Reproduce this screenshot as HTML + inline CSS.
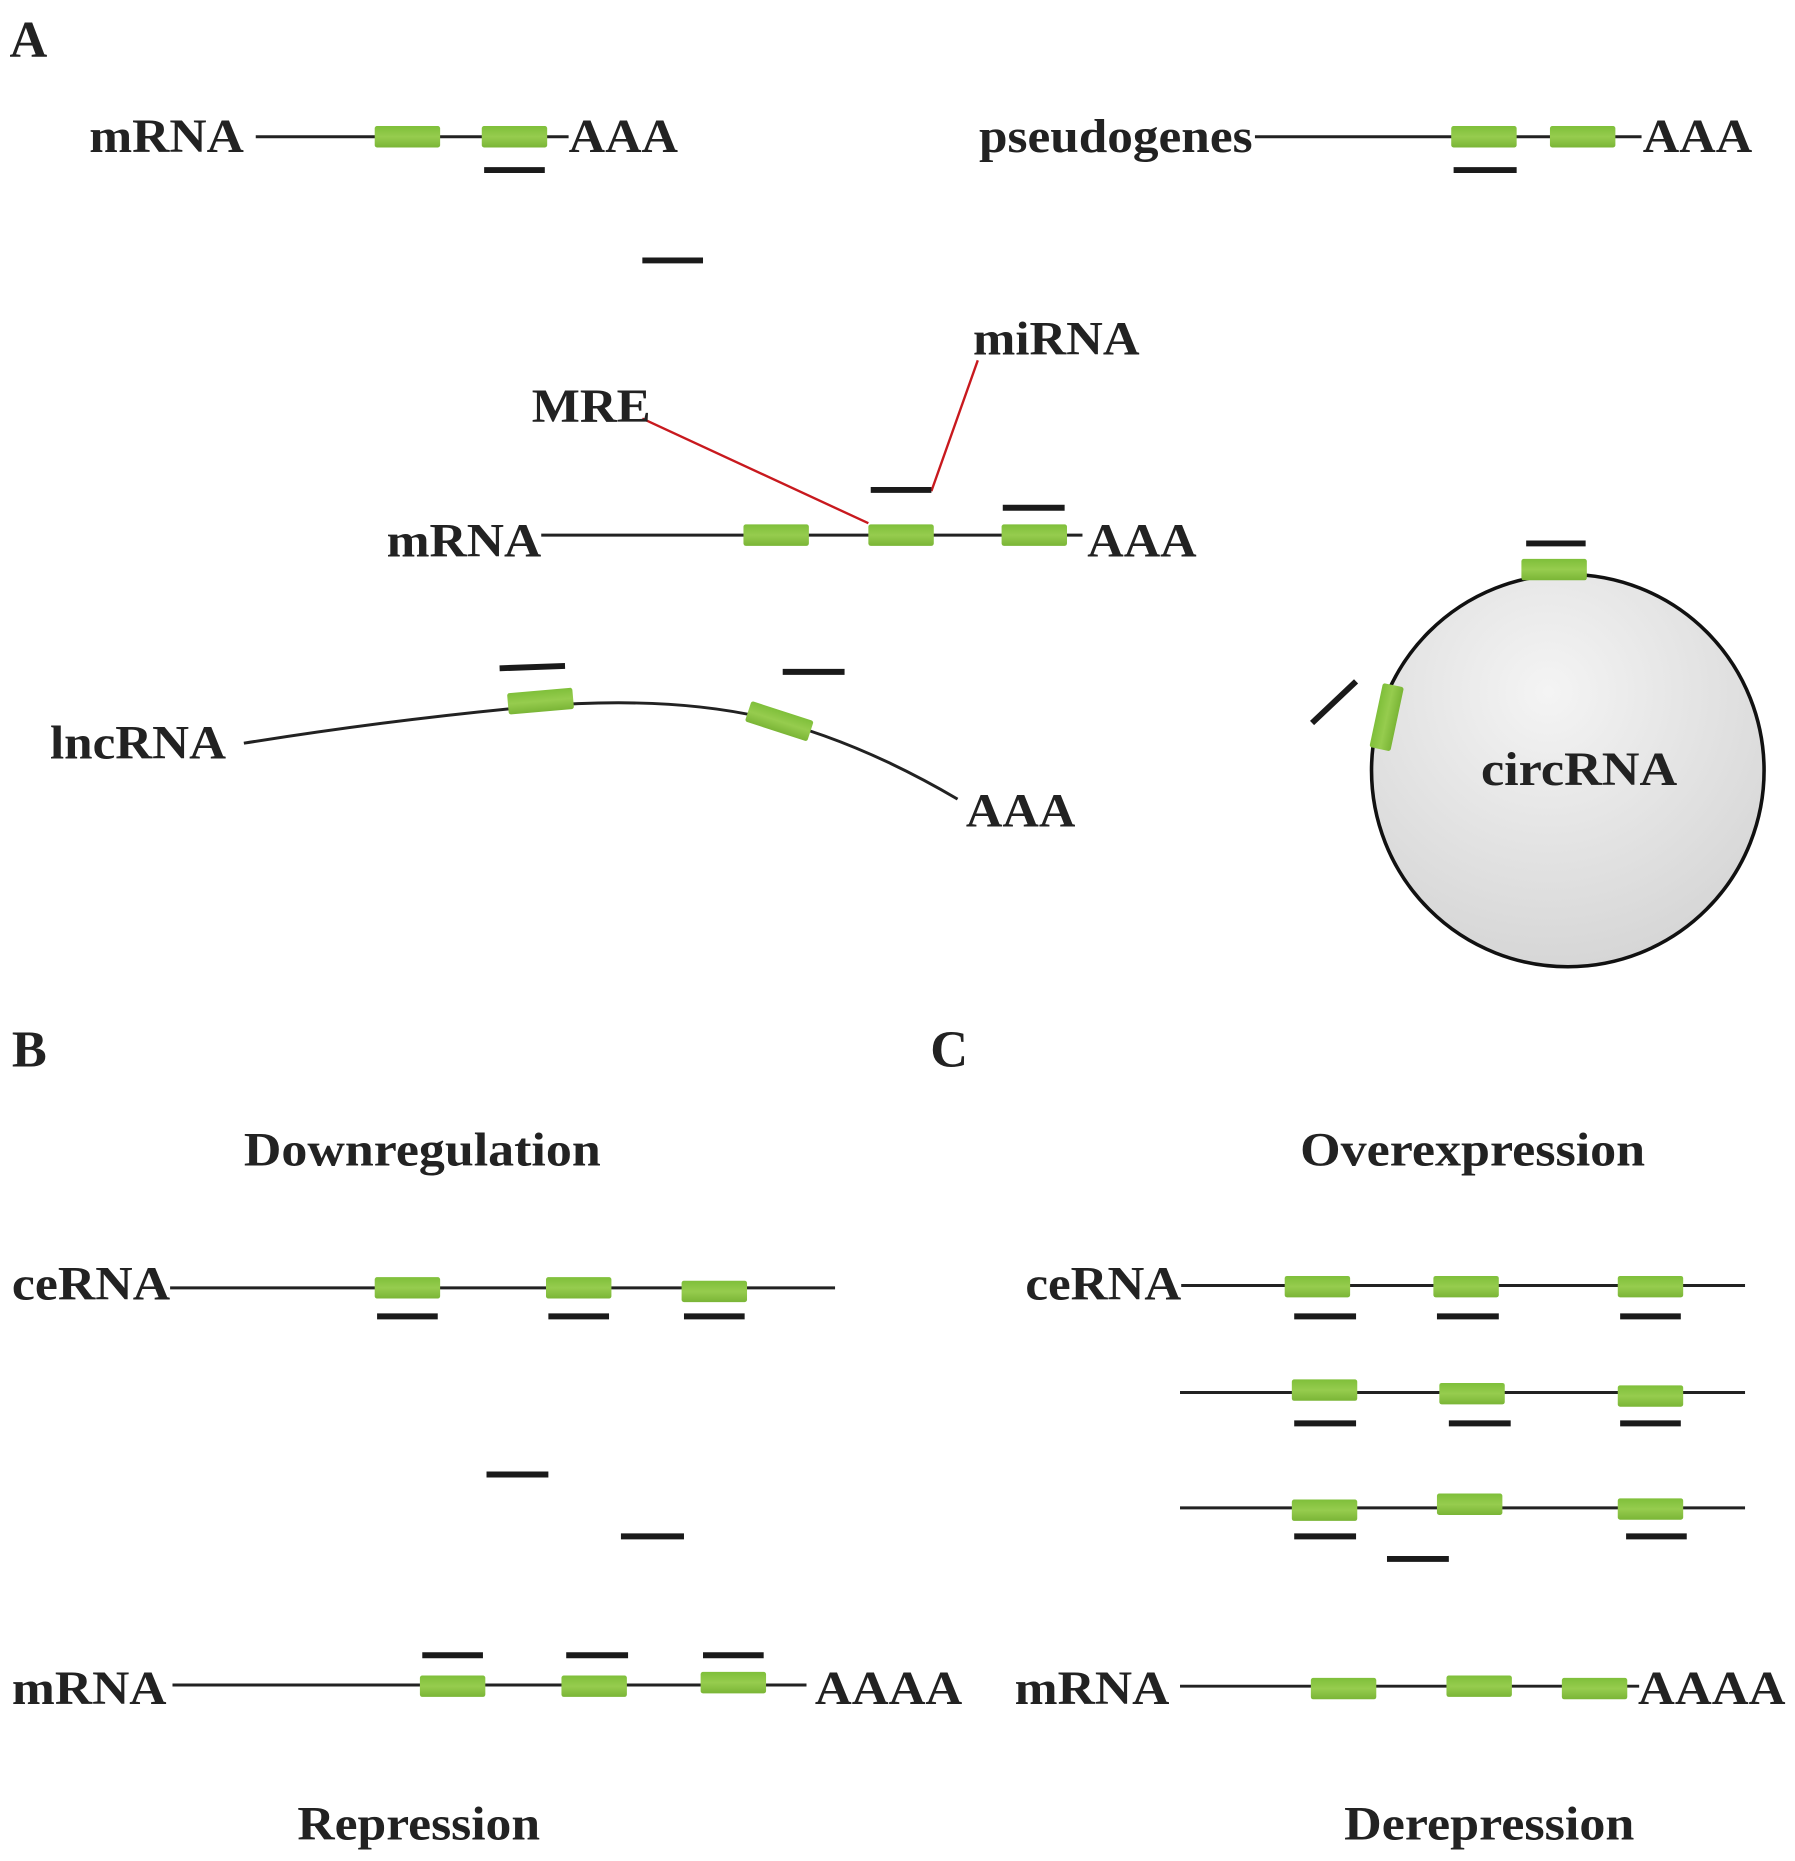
<!DOCTYPE html>
<html><head><meta charset="utf-8"><style>
html,body{margin:0;padding:0;background:#fff;width:1795px;height:1861px;overflow:hidden}
svg{display:block}
text{font-family:"Liberation Serif",serif;font-weight:bold;fill:#222}
</style></head><body>
<svg width="1795" height="1861" viewBox="0 0 1509 1565" preserveAspectRatio="none" xmlns="http://www.w3.org/2000/svg">
<defs>
<linearGradient id="g" x1="0" y1="0" x2="0" y2="1"><stop offset="0" stop-color="#7fbf3a"/><stop offset="0.5" stop-color="#96cc4e"/><stop offset="1" stop-color="#7ab536"/></linearGradient>
<radialGradient id="c" cx="0.45" cy="0.3" r="0.8"><stop offset="0" stop-color="#f4f4f4"/><stop offset="1" stop-color="#d2d2d2"/></radialGradient>
<g id="b"><rect x="0" y="-9" width="55" height="18" rx="2" fill="url(#g)"/></g>
</defs>
<g stroke="#222" stroke-width="2.5" fill="none">
<line x1="215" y1="115" x2="478" y2="115"/>
<line x1="1055" y1="115" x2="1380" y2="115"/>
<line x1="455" y1="450" x2="910" y2="450"/>
<path d="M205,625 Q330,605 450,594 Q560,585 640,603 Q720,622 805,672"/>
<line x1="143" y1="1083" x2="702" y2="1083"/>
<line x1="145" y1="1417" x2="678" y2="1417"/>
<line x1="993" y1="1081" x2="1467" y2="1081"/>
<line x1="992" y1="1171" x2="1467" y2="1171"/>
<line x1="992" y1="1268" x2="1467" y2="1268"/>
<line x1="992" y1="1418" x2="1378" y2="1418"/>
</g>
<circle cx="1318" cy="648" r="165" fill="url(#c)" stroke="#111" stroke-width="3"/>
<g stroke="#c8191e" stroke-width="2"><line x1="540" y1="352" x2="730" y2="440"/><line x1="822" y1="303" x2="783" y2="413"/></g>
<g>
<use href="#b" x="315" y="115"/><use href="#b" x="405" y="115"/>
<use href="#b" x="1220" y="115"/><use href="#b" x="1303" y="115"/>
<use href="#b" x="625" y="450"/><use href="#b" x="730" y="450"/><use href="#b" x="842" y="450"/>
<use href="#b" transform="translate(427,592) rotate(-5)"/>
<use href="#b" transform="translate(629,598) rotate(18)"/>
<use href="#b" x="1279" y="479"/>
<use href="#b" transform="translate(1160,630) rotate(-78)"/>
<use href="#b" x="315" y="1083"/><use href="#b" x="459" y="1083"/><use href="#b" x="573" y="1086"/>
<use href="#b" x="353" y="1418"/><use href="#b" x="472" y="1418"/><use href="#b" x="589" y="1415"/>
<use href="#b" x="1080" y="1082"/><use href="#b" x="1205" y="1082"/><use href="#b" x="1360" y="1082"/>
<use href="#b" x="1086" y="1169"/><use href="#b" x="1210" y="1172"/><use href="#b" x="1360" y="1174"/>
<use href="#b" x="1086" y="1270"/><use href="#b" x="1208" y="1265"/><use href="#b" x="1360" y="1269"/>
<use href="#b" x="1102" y="1420"/><use href="#b" x="1216" y="1418"/><use href="#b" x="1313" y="1420"/>
</g>
<g stroke="#1a1a1a" stroke-width="5">
<line x1="407" y1="143" x2="458" y2="143"/><line x1="1222" y1="143" x2="1275" y2="143"/>
<line x1="540" y1="219" x2="591" y2="219"/>
<line x1="732" y1="412" x2="783" y2="412"/><line x1="843" y1="427" x2="895" y2="427"/>
<line x1="420" y1="562" x2="475" y2="560"/><line x1="658" y1="565" x2="710" y2="565"/>
<line x1="1283" y1="457" x2="1333" y2="457"/><line x1="1103" y1="608" x2="1140" y2="573"/>
<line x1="317" y1="1107" x2="368" y2="1107"/><line x1="461" y1="1107" x2="512" y2="1107"/><line x1="575" y1="1107" x2="626" y2="1107"/>
<line x1="409" y1="1240" x2="461" y2="1240"/><line x1="522" y1="1292" x2="575" y2="1292"/>
<line x1="355" y1="1392" x2="406" y2="1392"/><line x1="476" y1="1392" x2="528" y2="1392"/><line x1="591" y1="1392" x2="642" y2="1392"/>
<line x1="1088" y1="1107" x2="1140" y2="1107"/><line x1="1208" y1="1107" x2="1260" y2="1107"/><line x1="1362" y1="1107" x2="1413" y2="1107"/>
<line x1="1088" y1="1197" x2="1140" y2="1197"/><line x1="1218" y1="1197" x2="1270" y2="1197"/><line x1="1362" y1="1197" x2="1413" y2="1197"/>
<line x1="1088" y1="1292" x2="1140" y2="1292"/><line x1="1367" y1="1292" x2="1418" y2="1292"/>
<line x1="1166" y1="1311" x2="1218" y2="1311"/>
</g>
<g font-size="40">
<text x="8" y="48" font-size="44">A</text>
<text x="75" y="128" textLength="130" lengthAdjust="spacingAndGlyphs">mRNA</text>
<text x="478" y="128" textLength="92" lengthAdjust="spacingAndGlyphs">AAA</text>
<text x="823" y="128" textLength="230" lengthAdjust="spacingAndGlyphs">pseudogenes</text>
<text x="1381" y="128" textLength="92" lengthAdjust="spacingAndGlyphs">AAA</text>
<text x="818" y="298" textLength="140" lengthAdjust="spacingAndGlyphs">miRNA</text>
<text x="447" y="355" textLength="100" lengthAdjust="spacingAndGlyphs">MRE</text>
<text x="325" y="468" textLength="130" lengthAdjust="spacingAndGlyphs">mRNA</text>
<text x="914" y="468" textLength="92" lengthAdjust="spacingAndGlyphs">AAA</text>
<text x="42" y="638" textLength="148" lengthAdjust="spacingAndGlyphs">lncRNA</text>
<text x="812" y="695" textLength="92" lengthAdjust="spacingAndGlyphs">AAA</text>
<text x="1245" y="660" textLength="165" lengthAdjust="spacingAndGlyphs">circRNA</text>
<text x="10" y="897" font-size="44">B</text>
<text x="782" y="897" font-size="44">C</text>
<text x="205" y="980" textLength="300" lengthAdjust="spacingAndGlyphs">Downregulation</text>
<text x="1093" y="980" textLength="290" lengthAdjust="spacingAndGlyphs">Overexpression</text>
<text x="10" y="1093" textLength="133" lengthAdjust="spacingAndGlyphs">ceRNA</text>
<text x="862" y="1093" textLength="131" lengthAdjust="spacingAndGlyphs">ceRNA</text>
<text x="10" y="1433" textLength="130" lengthAdjust="spacingAndGlyphs">mRNA</text>
<text x="685" y="1433" textLength="124" lengthAdjust="spacingAndGlyphs">AAAA</text>
<text x="853" y="1433" textLength="130" lengthAdjust="spacingAndGlyphs">mRNA</text>
<text x="1377" y="1433" textLength="124" lengthAdjust="spacingAndGlyphs">AAAA</text>
<text x="250" y="1547" textLength="204" lengthAdjust="spacingAndGlyphs">Repression</text>
<text x="1130" y="1547" textLength="244" lengthAdjust="spacingAndGlyphs">Derepression</text>
</g>
</svg>
</body></html>
